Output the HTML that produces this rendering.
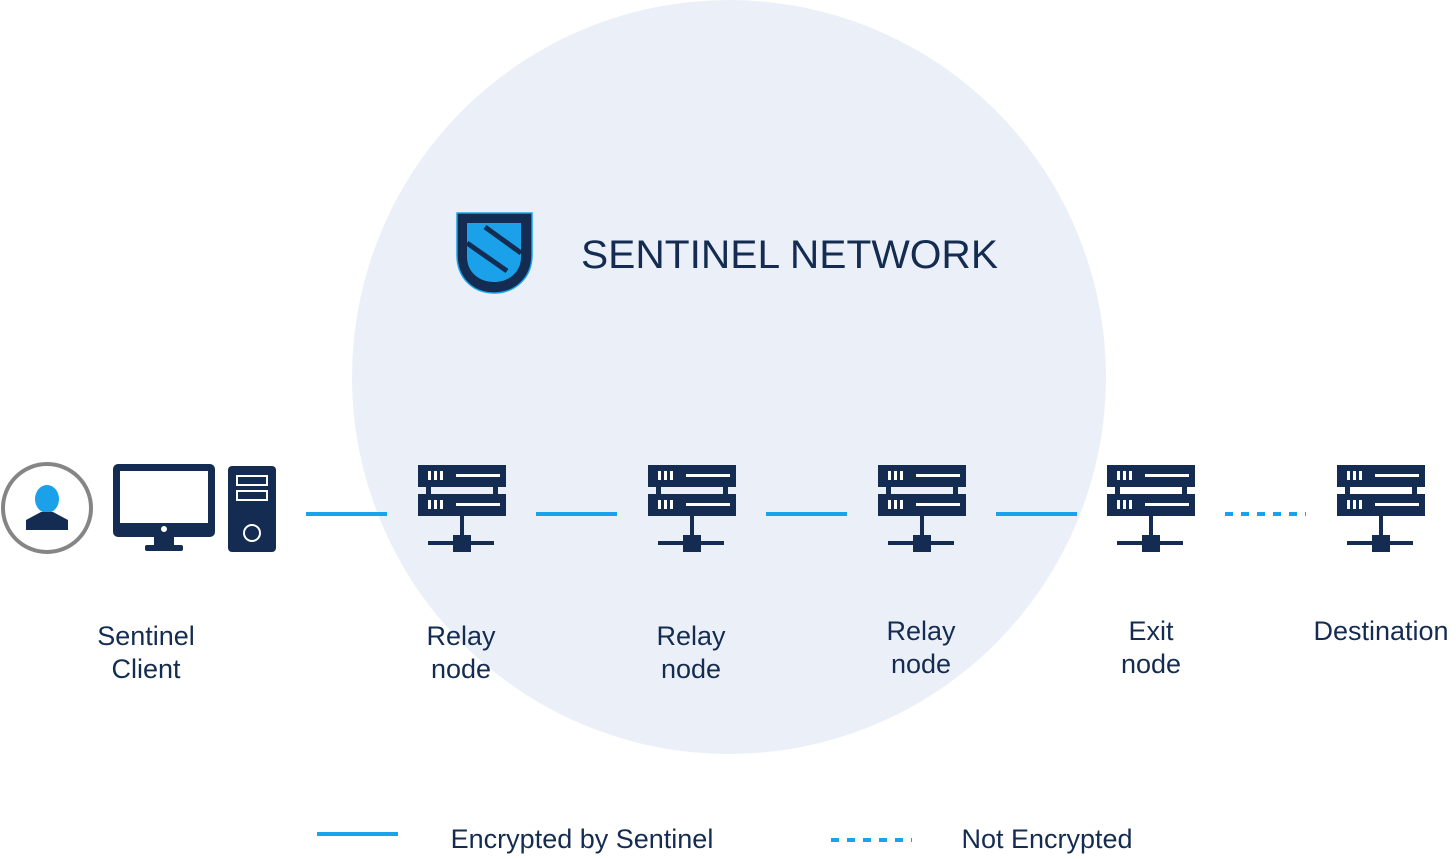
<!DOCTYPE html>
<html><head><style>
body{margin:0;width:1456px;height:854px;background:#fff;overflow:hidden;font-family:"Liberation Sans",sans-serif;}
</style></head><body>
<svg width="1456" height="854" viewBox="0 0 1456 854" xmlns="http://www.w3.org/2000/svg">
<defs>
<g id="srv">
<rect x="0" y="0" width="88" height="22" fill="#152c52"/>
<rect x="0" y="29" width="88" height="22" fill="#152c52"/>
<rect x="8" y="22" width="5" height="7" fill="#152c52"/>
<rect x="75" y="22" width="5" height="7" fill="#152c52"/>
<rect x="10" y="6" width="3" height="9" fill="#fff"/><rect x="16" y="6" width="3" height="9" fill="#fff"/><rect x="22" y="6" width="3" height="9" fill="#fff"/>
<rect x="38" y="9" width="44" height="3" fill="#fff"/>
<rect x="10" y="35" width="3" height="9" fill="#fff"/><rect x="16" y="35" width="3" height="9" fill="#fff"/><rect x="22" y="35" width="3" height="9" fill="#fff"/>
<rect x="38" y="38" width="44" height="3" fill="#fff"/>
<rect x="42" y="51" width="4" height="27" fill="#152c52"/>
<rect x="10" y="76" width="66" height="4" fill="#152c52"/>
<rect x="35" y="70" width="18" height="17" fill="#152c52"/>
</g>
</defs>
<circle cx="729" cy="377" r="377" fill="#ebf0f8"/>
<path d="M457 213 H532 V255 C532 278 515 293 494 293 C473 293 457 278 457 255 Z" fill="#152c52" stroke="#1aa3ec" stroke-width="1.5"/>
<path d="M467 223 H521 V257 C521 272 509 282 494 282 C479 282 467 272 467 257 Z" fill="#1aa1ea"/>
<path d="M485 227 L521 253 M467 243 L507 271" stroke="#152c52" stroke-width="5"/>
<text x="581" y="268" font-size="40" fill="#152c52" textLength="417" lengthAdjust="spacingAndGlyphs">SENTINEL NETWORK</text>
<circle cx="47" cy="508" r="44" fill="#fff" stroke="#858585" stroke-width="4"/>
<ellipse cx="47" cy="499" rx="12" ry="14" fill="#1aa1ea"/>
<path d="M26 520 L41 512 H53 L68 520 V530 H26 Z" fill="#152c52"/>
<rect x="113" y="464" width="102" height="73" rx="5" fill="#152c52"/>
<rect x="120" y="471" width="88" height="52" fill="#fff"/>
<circle cx="164" cy="529" r="3" fill="#fff"/>
<rect x="154" y="536" width="20" height="10" fill="#152c52"/>
<rect x="145" y="545" width="38" height="6" rx="2" fill="#152c52"/>
<rect x="228" y="466" width="48" height="86" rx="4" fill="#152c52"/>
<rect x="237" y="476" width="30" height="9" fill="none" stroke="#fff" stroke-width="2"/>
<rect x="237" y="491" width="30" height="9" fill="none" stroke="#fff" stroke-width="2"/>
<circle cx="252" cy="533" r="8" fill="none" stroke="#fff" stroke-width="2"/>
<use href="#srv" x="418" y="465"/>
<use href="#srv" x="648" y="465"/>
<use href="#srv" x="878" y="465"/>
<use href="#srv" x="1107" y="465"/>
<use href="#srv" x="1337" y="465"/>
<g stroke="#1aa3ec" stroke-width="4">
<line x1="306" y1="514" x2="387" y2="514"/>
<line x1="536" y1="514" x2="617" y2="514"/>
<line x1="766" y1="514" x2="847" y2="514"/>
<line x1="996" y1="514" x2="1077" y2="514"/>
<line x1="1225" y1="514" x2="1306" y2="514" stroke-dasharray="8 8"/>
<line x1="317" y1="834" x2="398" y2="834"/>
<line x1="831" y1="840" x2="912" y2="840" stroke-dasharray="8 8"/>
</g>
<g font-size="27" fill="#152c52" text-anchor="middle">
<text x="146" y="645">Sentinel</text><text x="146" y="678">Client</text>
<text x="461" y="645">Relay</text><text x="461" y="678">node</text>
<text x="691" y="645">Relay</text><text x="691" y="678">node</text>
<text x="921" y="640">Relay</text><text x="921" y="673">node</text>
<text x="1151" y="640">Exit</text><text x="1151" y="673">node</text>
<text x="1381" y="640">Destination</text>
<text x="582" y="848">Encrypted by Sentinel</text>
<text x="1047" y="848">Not Encrypted</text>
</g>
</svg>
</body></html>
